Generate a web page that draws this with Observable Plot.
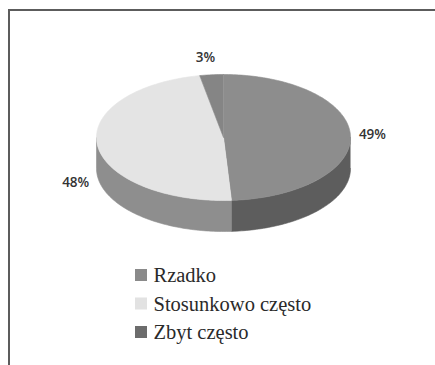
<!DOCTYPE html>
<html><head><meta charset="utf-8">
<script src="https://cdn.jsdelivr.net/npm/d3@7"></script>
<script src="https://cdn.jsdelivr.net/npm/@observablehq/plot@0.6"></script>
<style>
body{margin:0;background:#fff;overflow:hidden;}
#frame{position:absolute;left:8px;top:9px;width:440px;height:370px;border-top:2px solid #5c5c5c;border-left:2px solid #5c5c5c;box-sizing:border-box;}
#chart{position:absolute;left:0;top:0;}
#chart text.lg{font-family:"Liberation Serif","Times New Roman",serif !important;font-size:20.5px;}
#chart text.vl{font-family:"Open Sans",sans-serif !important;font-size:13.5px;}
</style></head><body><div id="frame"></div><div id="chart"></div>
<script>
// Data
const categories = ["Rzadko", "Stosunkowo często", "Zbyt często"];
const values = [49, 48, 3];
const valueLabels = ["49%", "48%", "3%"];

// Styles
const topColors = ["#8d8d8d", "#e4e4e4", "#858585"];
const sideColors = ["#5d5d5d", "#8e8e8e", "#555555"];
const legendColors = ["#8a8a8a", "#e2e2e2", "#6c6c6c"];

// Layout
const W = 435, H = 365;
const cx = 223, cy = 137, rx = 127, ry = 63, depth = 31;
const pt = (a, dy = 0) => [cx + rx * Math.sin(a), cy - ry * Math.cos(a) + dy];

const total = d3.sum(values);
let acc = 0;
const slices = values.map((v, i) => {
  const a0 = acc / total * 2 * Math.PI;
  acc += v;
  const a1 = acc / total * 2 * Math.PI;
  return {i, a0, a1, mid: (a0 + a1) / 2};
});

const arcPts = (a0, a1, dy = 0) => {
  const n = Math.max(2, Math.ceil((a1 - a0) / 0.02));
  return d3.range(n + 1).map(k => pt(a0 + (a1 - a0) * k / n, dy));
};

// Side walls (front half only)
const sideRows = [];
slices.forEach(s => {
  const b0 = Math.max(s.a0, Math.PI / 2), b1 = Math.min(s.a1, 3 * Math.PI / 2);
  if (b1 > b0) {
    const poly = [...arcPts(b0, b1), ...arcPts(b0, b1, depth).reverse()];
    poly.forEach(([x, y]) => sideRows.push({x, y, k: "s" + s.i, c: sideColors[s.i]}));
  }
});

// Top faces
const topRows = [];
slices.forEach(s => {
  const poly = [[cx, cy], ...arcPts(s.a0, s.a1)];
  poly.forEach(([x, y]) => topRows.push({x, y, k: "t" + s.i, c: topColors[s.i]}));
});

// Value labels
const labelRows = slices.map(s => {
  const c = Math.cos(s.mid), sn = Math.sin(s.mid);
  return {
    x: cx + (rx + 22) * sn - (c > 0.9 ? 4 : 0),
    y: cy - (ry + 17) * c + (c < 0 ? depth + 4 : 0),
    t: valueLabels[s.i]
  };
});

// Legend
const lgX = 135, lgY = 275, lgStep = 28.5, sq = 12;
const legendRows = categories.map((name, i) => ({
  name, c: legendColors[i], y: lgY + i * lgStep
}));

const chart = Plot.plot({
  width: W, height: H,
  margin: 0,
  x: {domain: [0, W], range: [0, W], axis: null},
  y: {domain: [0, H], range: [0, H], axis: null},
  marks: [
    Plot.line(sideRows, {x: "x", y: "y", z: "k", fill: d => d.c, stroke: d => d.c, strokeWidth: 0.6}),
    Plot.line(topRows, {x: "x", y: "y", z: "k", fill: d => d.c, stroke: d => d.c, strokeWidth: 0.6}),
    Plot.text(labelRows, {x: "x", y: "y", text: "t", fill: "#333", fontWeight: 600}),
    Plot.rect(legendRows, {x1: lgX, x2: lgX + sq, y1: d => d.y - sq / 2, y2: d => d.y + sq / 2, fill: d => d.c}),
    Plot.text(legendRows, {x: lgX + sq + 6, y: "y", text: "name", textAnchor: "start", fill: "#2a2a2a"})
  ]
});
chart.style.background = "transparent";
d3.select(chart).selectAll("text").each(function() {
  const t = this.textContent;
  if (categories.includes(t)) this.classList.add("lg");
  else if (valueLabels.includes(t)) this.classList.add("vl");
});
document.getElementById("chart").appendChild(chart);
</script>
</body></html>
